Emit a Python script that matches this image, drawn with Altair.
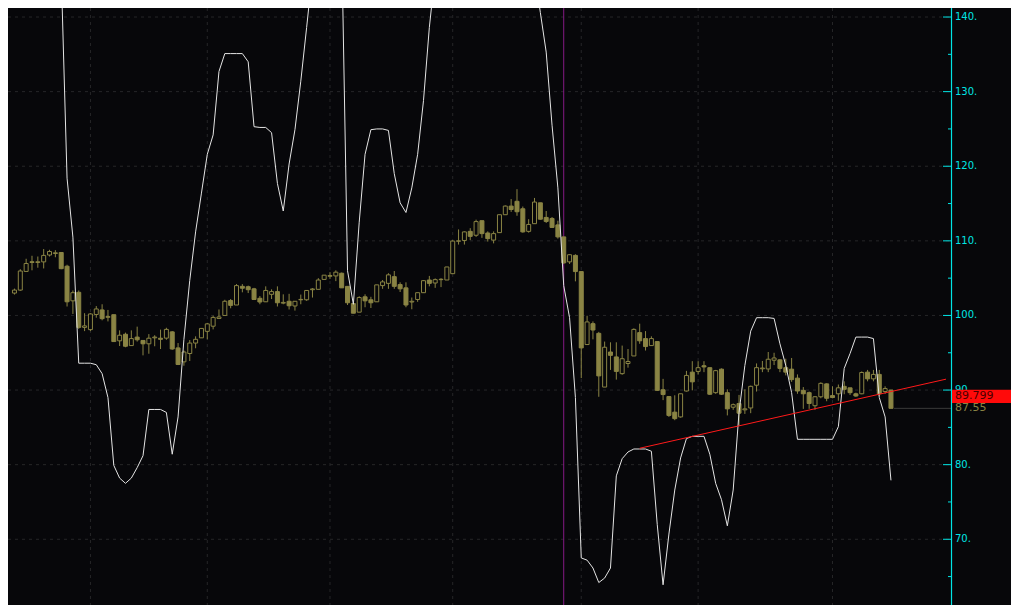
import altair as alt
import pandas as pd

# ---------------- data ----------------
opens = [103.0, 103.4, 105.9, 107.2, 107.1, 107.18, 108.1, 108.3, 108.44, 106.6,
         101.96, 103.1, 98.4, 98.1, 100.13, 100.74, 99.75, 100.1, 96.6, 97.48,
         95.96, 97.1, 96.65, 96.2, 97.0, 96.95, 96.96, 97.8, 95.65, 93.78,
         94.9, 96.3, 97.0, 97.87, 98.56, 99.6, 100.0, 102.0, 101.4, 103.9,
         103.85, 103.57, 102.3, 101.83, 102.83, 103.2, 101.65, 101.9, 101.27, 102.1,
         102.1, 103.45, 103.5, 104.83, 105.25, 105.3, 105.66, 103.9, 101.6, 100.44,
         102.5, 102.1, 101.83, 104.0, 104.3, 105.2, 104.14, 103.7, 101.8, 102.14,
         103.05, 104.75, 104.35, 104.8, 104.75, 105.6, 109.95, 110.05, 111.27, 110.75,
         112.7, 111.05, 110.1, 111.1, 113.5, 114.66, 115.3, 114.3, 111.27, 112.3,
         115.1, 113.14, 113.0, 112.14, 110.53, 107.18, 108.05, 105.88, 96.1, 98.9,
         97.6, 90.4, 95.1, 94.44, 92.2, 93.56, 94.57, 97.7, 96.9, 95.96,
         96.5, 90.04, 89.13, 87.04, 86.4, 89.87, 92.4, 92.5, 93.26, 93.0,
         89.65, 92.8, 89.65, 87.7, 88.2, 87.35, 87.6, 90.65, 92.85, 92.83,
         94.0, 94.05, 93.0, 92.8, 91.6, 89.96, 89.65, 87.9, 89.1, 90.83,
         89.26, 89.5, 90.5, 90.3, 89.5, 89.5, 92.4, 91.5, 92.1, 89.8,
         90.0]
highs = [103.6, 106.2, 107.6, 108.0, 107.9, 108.9, 108.8, 108.75, 108.5, 106.8,
         103.35, 103.35, 100.3, 100.3, 101.26, 101.5, 100.74, 100.1, 98.0, 97.7,
         98.0, 98.5, 96.65, 97.5, 97.35, 98.1, 98.35, 97.9, 96.3, 95.3,
         96.7, 97.2, 98.26, 99.0, 99.96, 100.8, 102.1, 102.2, 104.2, 104.2,
         104.0, 103.7, 102.6, 103.9, 103.5, 103.9, 102.83, 102.9, 101.9, 102.8,
         103.4, 103.66, 105.0, 105.4, 105.8, 106.05, 105.75, 103.9, 101.6, 102.57,
         102.83, 102.5, 104.1, 104.75, 105.66, 105.96, 104.44, 104.44, 102.4, 103.05,
         104.75, 105.3, 104.96, 105.0, 106.5, 110.1, 111.53, 111.27, 111.7, 112.84,
         112.7, 111.27, 111.27, 113.5, 114.75, 115.6, 116.93, 114.6, 112.9, 115.75,
         115.1, 114.0, 113.2, 112.7, 110.53, 108.2, 108.2, 105.88, 99.96, 99.2,
         97.8, 96.5, 96.4, 96.4, 95.96, 95.5, 98.27, 98.9, 97.9, 97.2,
         96.5, 91.5, 89.13, 89.3, 89.5, 92.57, 93.87, 93.87, 93.87, 93.0,
         92.7, 92.9, 90.1, 88.2, 89.35, 90.1, 90.6, 93.57, 93.9, 95.1,
         95.0, 94.13, 94.2, 94.3, 92.1, 90.4, 89.8, 89.2, 91.04, 90.9,
         90.5, 90.74, 91.17, 90.3, 89.65, 92.5, 92.7, 92.7, 92.7, 90.5,
         90.0]
lows = [102.8, 103.3, 105.9, 106.05, 106.4, 106.3, 107.9, 107.8, 106.2, 101.2,
        100.2, 98.2, 97.9, 97.9, 99.7, 99.35, 99.2, 96.5, 95.9, 95.74,
        95.96, 96.5, 94.65, 94.87, 95.87, 95.5, 96.74, 95.4, 93.35, 93.26,
        93.9, 95.6, 97.0, 96.8, 98.13, 99.6, 100.0, 100.96, 101.4, 103.1,
        103.0, 102.1, 101.5, 101.8, 102.2, 101.2, 101.5, 100.8, 100.65, 101.5,
        101.96, 102.4, 103.5, 104.83, 104.9, 104.6, 103.7, 101.4, 100.3, 100.44,
        101.1, 101.0, 101.83, 103.57, 103.57, 103.57, 103.14, 101.1, 100.83, 101.83,
        103.05, 103.9, 103.7, 103.8, 104.75, 105.6, 109.5, 109.5, 110.1, 110.53,
        110.4, 109.9, 109.66, 111.1, 113.5, 113.88, 113.36, 111.1, 111.1, 112.3,
        112.84, 112.4, 111.75, 110.3, 106.9, 106.9, 104.57, 91.6, 96.1, 96.8,
        89.1, 90.4, 92.7, 91.4, 92.05, 93.0, 94.57, 96.2, 95.3, 95.96,
        89.87, 88.65, 86.4, 85.96, 86.3, 89.8, 89.96, 92.1, 92.4, 89.35,
        89.5, 89.35, 86.6, 87.35, 85.17, 86.8, 86.9, 89.8, 92.4, 92.4,
        93.35, 92.4, 91.96, 91.1, 89.5, 87.48, 87.48, 87.35, 88.9, 88.5,
        88.9, 88.57, 89.44, 89.35, 89.1, 89.44, 91.17, 91.17, 89.2, 89.5,
        87.55]
closes = [103.4, 105.96, 106.96, 107.1, 107.2, 108.05, 108.57, 108.4, 106.27, 101.83,
          103.05, 98.4, 98.6, 100.2, 100.87, 99.57, 99.85, 96.5, 97.35, 95.87,
          96.9, 96.74, 96.2, 96.95, 97.1, 96.8, 98.13, 95.5, 93.43, 95.1,
          96.3, 96.8, 98.26, 98.87, 99.74, 99.8, 101.9, 101.35, 104.0, 103.65,
          103.45, 102.14, 101.8, 103.35, 103.2, 101.7, 101.75, 101.3, 101.9, 102.15,
          103.35, 103.55, 104.75, 105.4, 105.35, 105.8, 103.7, 101.7, 100.3, 102.4,
          101.96, 101.7, 104.1, 104.5, 105.44, 103.9, 103.57, 101.4, 101.9, 103.05,
          104.66, 104.3, 104.8, 104.85, 106.5, 109.97, 110.0, 111.2, 110.6, 112.58,
          110.97, 110.3, 110.97, 113.5, 114.66, 114.2, 113.9, 111.2, 112.2, 115.2,
          112.9, 112.6, 111.8, 110.53, 107.05, 108.14, 105.88, 95.65, 99.13, 98.05,
          91.9, 95.74, 94.65, 92.5, 94.2, 93.83, 98.13, 96.6, 95.83, 96.9,
          89.96, 89.4, 86.6, 86.17, 89.5, 91.96, 91.1, 93.0, 93.1, 89.44,
          92.6, 89.44, 87.48, 88.04, 86.9, 87.48, 90.5, 93.0, 92.95, 94.13,
          94.3, 92.9, 92.4, 91.4, 89.87, 89.5, 88.2, 89.1, 90.9, 88.9,
          89.0, 90.3, 90.1, 89.65, 89.2, 92.35, 91.5, 92.1, 89.5, 90.2,
          87.55]

# white indicator line, one value per bar starting at bar 8
osc_start = 8
osc = [146, 118.4, 110.5, 93.6, 93.6, 93.6, 93.4, 92.2, 89.0, 79.9,
       78.2, 77.5, 78.2, 79.6, 81.2, 87.4, 87.4, 87.4, 87.0, 81.4,
       86.4, 96.8, 104.7, 111.2, 116.4, 121.6, 124.2, 132.7, 135.1, 135.1,
       135.1, 135.1, 134.0, 125.3, 125.2, 125.2, 124.5, 117.7, 114.0, 120.3,
       124.9, 131.4, 138.6, 146, 152, 155, 154, 150, 150, 106,
       101.5, 112.5, 121.6, 124.9, 125.0, 125.0, 124.8, 119.0, 115.1, 113.8,
       117.1, 121.6, 128.8, 138.6, 146, 152, 157, 160, 162, 163,
       163, 162, 160, 158, 157, 157, 156, 155, 154, 152,
       150, 146, 140.6, 135.3, 125.5, 117.1, 104.0, 99.7, 89.0, 67.5,
       67.2, 66.15, 64.2, 64.8, 66.15, 78.5, 80.8, 81.7, 82.1, 82.1,
       82.1, 81.8, 72.0, 63.9, 70.7, 76.6, 80.9, 83.5, 83.8, 83.8,
       83.8, 81.4, 77.5, 75.3, 71.8, 76.6, 87.0, 93.3, 97.9, 99.7,
       99.7, 99.7, 99.6, 96.2, 93.3, 89.65, 83.4, 83.4, 83.4, 83.4,
       83.4, 83.4, 83.4, 85.1, 92.9, 94.9, 97.1, 97.1, 97.1, 96.9,
       89.0, 86.4, 77.9]

trend_x = [107, 159.42]
trend_y = [82.2, 91.46]
trend_label = "89.799"
last_label = "87.55"
last_price = 87.55

grid_bars = [13, 33, 54, 75, 97, 117, 140]
marker_bar = 94
major_ticks = [70, 80, 90, 100, 110, 120, 130, 140]
minor_ticks = [65, 75, 85, 95, 105, 115, 125, 135]

# ---------------- style ----------------
BG = "#07070a"
OLIVE = "#8a8444"
CYAN = "#00e5e5"
W, H = 943, 597
xs = alt.Scale(domain=[-0.25, 159.42], nice=False, zero=False)
ys = alt.Scale(domain=[61.19, 141.21], nice=False, zero=False)

n = len(opens)
candles = pd.DataFrame({"i": list(range(n)), "open": opens, "high": highs,
                        "low": lows, "close": closes})
osc_df = pd.DataFrame({"i": list(range(osc_start, osc_start + len(osc))), "v": osc})
trend_df = pd.DataFrame({"i": trend_x, "v": trend_y})
grid_y_df = pd.DataFrame({"v": major_ticks})
grid_x_df = pd.DataFrame({"i": grid_bars})
major_df = pd.DataFrame({"v": major_ticks, "lab": [f"{t}." for t in major_ticks]})
minor_df = pd.DataFrame({"v": minor_ticks})

X = lambda f: alt.X(f, type="quantitative", scale=xs, axis=None)
Y = lambda f: alt.Y(f, type="quantitative", scale=ys, axis=None)

hgrid = alt.Chart(grid_y_df).mark_rule(color="#262628", strokeDash=[3, 4], strokeWidth=1).encode(
    y=Y("v"), x=alt.value(0), x2=alt.value(W))
vgrid = alt.Chart(grid_x_df).mark_rule(color="#262628", strokeDash=[3, 4], strokeWidth=1).encode(
    x=X("i"), y=alt.value(0), y2=alt.value(H))
marker = alt.Chart(pd.DataFrame({"i": [marker_bar]})).mark_rule(color="#861a86", strokeWidth=1).encode(
    x=X("i"), y=alt.value(0), y2=alt.value(H))

wicks = alt.Chart(candles).mark_rule(color=OLIVE, strokeWidth=1).encode(
    x=X("i"), y=Y("low"), y2=alt.Y2("high"))
bodies = alt.Chart(candles).mark_bar(size=4, stroke=OLIVE, strokeWidth=1).encode(
    x=X("i"), y=Y("open"), y2=alt.Y2("close"),
    fill=alt.condition("datum.close < datum.open", alt.value(OLIVE), alt.value(BG)))

osc_line = alt.Chart(osc_df).mark_line(color="#e4e4e4", strokeWidth=1, clip=True).encode(
    x=X("i"), y=Y("v"))
trend = alt.Chart(trend_df).mark_line(color="#ff1a1a", strokeWidth=1, clip=True).encode(
    x=X("i"), y=Y("v"))
last_line = alt.Chart(pd.DataFrame({"i": [150.5], "v": [last_price]})).mark_rule(
    color="#3a3a3a", strokeWidth=1).encode(x=X("i"), x2=alt.value(W), y=Y("v"))

domain = alt.Chart(pd.DataFrame({"v": [0]})).mark_rule(color=CYAN, strokeWidth=1.2).encode(
    x=alt.value(W + 0.5), y=alt.value(0), y2=alt.value(H))
maj = alt.Chart(major_df).mark_rule(color=CYAN, strokeWidth=1).encode(
    y=Y("v"), x=alt.value(W - 8), x2=alt.value(W))
mino = alt.Chart(minor_df).mark_rule(color=CYAN, strokeWidth=1).encode(
    y=Y("v"), x=alt.value(W - 3), x2=alt.value(W))
labels = alt.Chart(major_df).mark_text(color=CYAN, font="DejaVu Sans", fontSize=10,
                                       align="left", baseline="middle").encode(
    y=Y("v"), x=alt.value(W + 4), text="lab:N")

box = alt.Chart(pd.DataFrame({"a": [90.04], "b": [88.25]})).mark_rect(color="#ff0a0a").encode(
    y=Y("a"), y2=alt.Y2("b"), x=alt.value(W + 1), x2=alt.value(W + 60))
box_text = alt.Chart(pd.DataFrame({"v": [89.15], "t": [trend_label]})).mark_text(
    color="#4a0000", font="DejaVu Sans", fontSize=11, align="left", baseline="middle").encode(
    y=Y("v"), x=alt.value(W + 4), text="t:N")
last_text = alt.Chart(pd.DataFrame({"v": [last_price], "t": [last_label]})).mark_text(
    color=OLIVE, font="DejaVu Sans", fontSize=11, align="left", baseline="middle").encode(
    y=Y("v"), x=alt.value(W + 4), text="t:N")

chart = alt.layer(
    hgrid, vgrid, marker, wicks, bodies, osc_line, trend, last_line,
    domain, maj, mino, labels, box, box_text, last_text
).properties(
    width=W, height=H,
    background=BG,
    padding={"left": 0, "top": 0, "right": 60, "bottom": 0},
    autosize=alt.AutoSizeParams(type="none"),
).configure_view(stroke=None)

chart.save("out.html", embed_options={"renderer": "svg", "actions": False})
